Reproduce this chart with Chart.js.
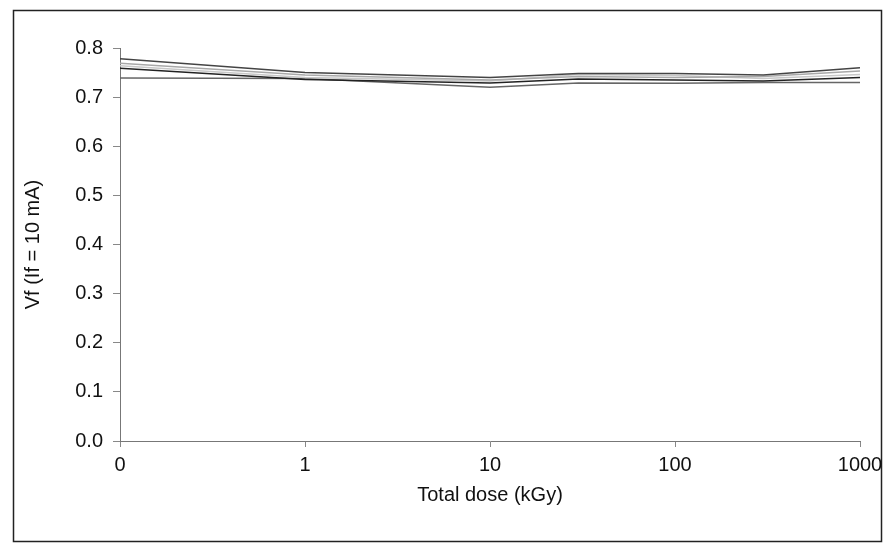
<!DOCTYPE html>
<html>
<head>
<meta charset="utf-8">
<script src="https://cdn.jsdelivr.net/npm/chart.js@4/dist/chart.umd.min.js"></script>
<style>
html,body{margin:0;padding:0;background:#fff;}
#wrap{width:890px;height:552px;position:relative;}
</style>
</head>
<body>
<div id="wrap"><canvas id="c" width="890" height="552"></canvas></div>
<script>
// Total dose (kGy); 0.1 shown as "0" on the log axis
const doses = [0.1, 1, 10, 30, 100, 300, 1000];
const xTicks = [0.1, 1, 10, 100, 1000];
const yTicks = [0, 0.1, 0.2, 0.3, 0.4, 0.5, 0.6, 0.7, 0.8];
const seriesA = [0.778, 0.750, 0.740, 0.748, 0.748, 0.745, 0.760];
const seriesB = [0.769, 0.745, 0.735, 0.742, 0.740, 0.742, 0.753];
const seriesC = [0.764, 0.740, 0.733, 0.746, 0.744, 0.738, 0.746];
const seriesD = [0.759, 0.736, 0.729, 0.737, 0.735, 0.733, 0.740];
const seriesE = [0.739, 0.738, 0.720, 0.729, 0.728, 0.730, 0.730];

const colors = ['#444444', '#a8a8a8', '#c8c8c8', '#222222', '#666666'];
const allSeries = [seriesA, seriesB, seriesC, seriesD, seriesE];
const FONT = 'Liberation Sans, Arial, sans-serif';

const frame = {
  id: 'frame',
  beforeDraw(chart) {
    const ctx = chart.ctx;
    ctx.save();
    ctx.fillStyle = '#fff';
    ctx.fillRect(0, 0, chart.width, chart.height);
    ctx.strokeStyle = '#222';
    ctx.lineWidth = 1.5;
    ctx.strokeRect(13.5, 10.5, 868, 531);
    ctx.restore();
  }
};

new Chart(document.getElementById('c'), {
  type: 'line',
  data: {
    datasets: allSeries.map((s, i) => ({
      data: doses.map((d, j) => ({x: d, y: s[j]})),
      borderColor: colors[i],
      borderWidth: 1.5,
      pointRadius: 0,
      tension: 0,
      fill: false
    }))
  },
  options: {
    responsive: false,
    animation: false,
    devicePixelRatio: 1,
    layout: {padding: {left: 0, top: 48, right: 30, bottom: 0}},
    plugins: {legend: {display: false}, tooltip: {enabled: false}},
    scales: {
      x: {
        type: 'logarithmic',
        min: 0.1, max: 1000,
        afterBuildTicks: (sc) => { sc.ticks = xTicks.map(v => ({value: v})); },
        afterFit: (sc) => { sc.height = 111; },
        grid: {drawOnChartArea: false, tickLength: 6, color: '#888'},
        border: {color: '#777', width: 1},
        ticks: {
          color: '#111', font: {family: FONT, size: 20}, padding: 6,
          maxRotation: 0, autoSkip: false,
          callback: (v) => v < 1 ? '0' : String(v)
        },
        title: {display: true, text: 'Total dose (kGy)', color: '#111',
          font: {family: FONT, size: 20}, padding: {top: 4, bottom: 45}}
      },
      y: {
        min: 0, max: 0.8,
        afterBuildTicks: (sc) => { sc.ticks = yTicks.map(v => ({value: v})); },
        afterFit: (sc) => { sc.width = 120; },
        grid: {drawOnChartArea: false, tickLength: 7, color: '#888'},
        border: {color: '#777', width: 1},
        ticks: {
          color: '#111', font: {family: FONT, size: 20}, padding: 10,
          callback: (v) => Number(v).toFixed(1)
        },
        title: {display: true, text: 'Vf (If = 10 mA)', color: '#111',
          font: {family: FONT, size: 20}, padding: {top: 21, bottom: 4}}
      }
    }
  },
  plugins: [frame]
});
</script>
</body>
</html>
